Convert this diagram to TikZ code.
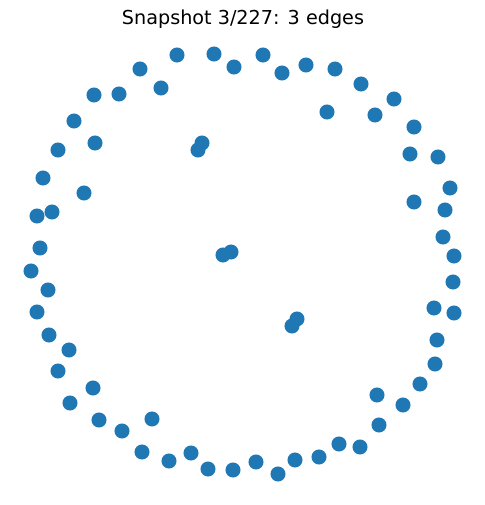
\documentclass[tikz,border=0pt]{standalone}
\usepackage{fontspec}
\setmainfont{DejaVu Sans}
\definecolor{dotblue}{HTML}{1F77B4}
\begin{document}
\begin{tikzpicture}[x=0.75pt,y=-0.75pt,
  dot/.style={circle,fill=dotblue,draw=none,minimum size=11.3pt,inner sep=0pt},
  edge/.style={draw=black,line width=0.75pt}]
\useasboundingbox (0,0) rectangle (484,505);
\node[font=\fontsize{14.4}{17}\selectfont] (title) at (243,19) {Snapshot 3/227: 3 edges};
\foreach \n/\x/\y in {1/177/55,2/214/54,3/234/67,4/263/55,5/282/73,6/306/65,7/335/69,8/361/84,9/394/99,10/140/69,11/161/88,12/94/95,13/119/94,14/74/121,15/95/143,16/58/150,17/43/178,18/84/193,19/37/216,20/52/212,21/40/248,22/31/271,23/48/290,24/37/312,25/49/335,26/69/350,27/58/371,28/93/388,29/70/403,30/99/420,31/122/431,32/152/419,33/142/452,34/169/461,35/191/453,36/208/469,37/233/470,38/256/462,39/278/474,40/295/460,41/319/457,42/339/444,43/360/447,44/379/425,45/377/395,46/403/405,47/420/384,48/435/364,49/437/340,50/434/308,51/454/313,52/453/282,53/454/256,54/443/237,55/445/210,56/414/202,57/450/188,58/438/157,59/410/154,60/414/127,61/375/115,62/327/112,63/202/143,64/198/150,65/223/255,66/231/252,67/297/319,68/292/326}
  \coordinate (c\n) at (\x,\y);
\draw[edge] (c63) -- (c64);
\draw[edge] (c65) -- (c66);
\draw[edge] (c67) -- (c68);
\foreach \n in {1,...,68}
  \node[dot] (v\n) at (c\n) {};
\end{tikzpicture}
\end{document}
